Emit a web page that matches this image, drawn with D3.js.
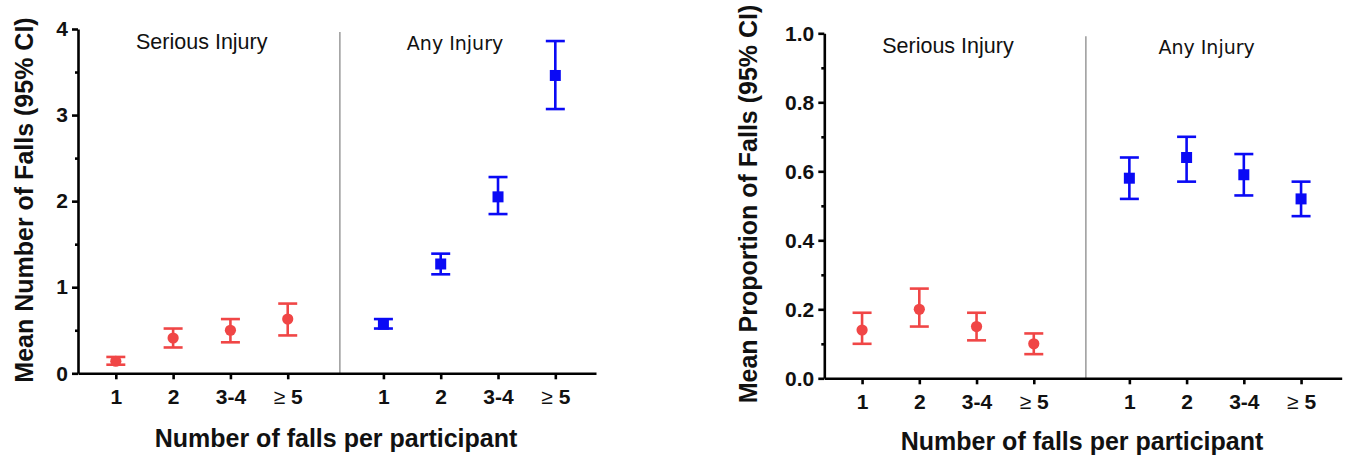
<!DOCTYPE html>
<html>
<head>
<meta charset="utf-8">
<script src="https://cdn.jsdelivr.net/npm/d3@7"></script>
<style>
body{margin:0;background:#fff}
svg{display:block}
</style>
</head>
<body>
<svg id="chart" width="1350" height="458"></svg>
<script>
const categories = ["1", "2", "3-4", "\u2265 5"]
const groups = ["Serious Injury", "Any Injury"]

// left panel - mean number of falls
const countSeriousMean = [0.14, 0.41, 0.50, 0.63]
const countSeriousLo   = [0.10, 0.30, 0.36, 0.44]
const countSeriousHi   = [0.19, 0.52, 0.63, 0.81]
const countAnyMean = [0.57, 1.27, 2.05, 3.46]
const countAnyLo   = [0.52, 1.15, 1.85, 3.07]
const countAnyHi   = [0.63, 1.39, 2.28, 3.86]
const countTicks = [0, 1, 2, 3, 4]
const countMinor = [0.5, 1.5, 2.5, 3.5]

// right panel - mean proportion of falls
const propSeriousMean = [0.14, 0.20, 0.15, 0.10]
const propSeriousLo   = [0.10, 0.15, 0.11, 0.07]
const propSeriousHi   = [0.19, 0.26, 0.19, 0.13]
const propAnyMean = [0.58, 0.64, 0.59, 0.52]
const propAnyLo   = [0.52, 0.57, 0.53, 0.47]
const propAnyHi   = [0.64, 0.70, 0.65, 0.57]
const propTicks = [0, 0.2, 0.4, 0.6, 0.8, 1.0]
const propMinor = [0.1, 0.3, 0.5, 0.7, 0.9]

const red = "#f04646", blue = "#0a0af5"
const groupGap = 4.67   // slot offset of the second group
const slot = (g, i) => g * groupGap + i + 1

const svg = d3.select("#chart")

function drawPanel(p){
  let x = d3.scaleLinear().domain([0.34, 9.38]).range([p.left, p.right])
  let y = d3.scaleLinear().domain(p.domain).range([p.bottom, p.top])
  let g = svg.append("g")

  // divider between the two groups
  g.append("line")
    .attr("x1", x(4.91)).attr("x2", x(4.91))
    .attr("y1", p.top + 3).attr("y2", p.bottom)
    .attr("stroke", "#a0a0a0").attr("stroke-width", 1.6)

  // group titles
  g.append("text").attr("x", x(2.5)).attr("y", p.top + 20)
    .attr("text-anchor", "middle")
    .style("font-family", "'Liberation Sans', Arial, sans-serif").style("font-size", "21.5px").style("fill", "#111")
    .text(groups[0])
  g.append("text").attr("x", x(p.anyPos)).attr("y", p.top + 21)
    .attr("text-anchor", "middle")
    .style("font-family", "'DejaVu Sans', sans-serif").style("font-size", "19px").style("fill", "#111")
    .text(groups[1])

  // y axis, major + minor
  g.append("g").attr("transform", "translate(" + p.left + ",0)")
    .call(d3.axisLeft(y).tickValues(p.ticks).tickFormat(p.fmt).tickSize(6).tickSizeOuter(0).tickPadding(4))
  g.append("g").attr("transform", "translate(" + p.left + ",0)")
    .call(d3.axisLeft(y).tickValues(p.minor).tickFormat("").tickSize(3).tickSizeOuter(0))
    .select(".domain").remove()

  // x axis
  let xs = [0, 1, 2, 3].map(i => slot(0, i)).concat([0, 1, 2, 3].map(i => slot(1, i)))
  let xAx = g.append("g").attr("transform", "translate(0," + p.bottom + ")")
    .call(d3.axisBottom(x).tickValues(xs).tickFormat((d, i) => categories[i % 4]).tickSize(6).tickSizeOuter(0).tickPadding(10))

  g.selectAll(".domain, .tick line").attr("stroke", "#000").attr("stroke-width", 2.6)
  g.selectAll(".tick text")
    .attr("font-family", null).attr("font-size", null)
    .style("font-family", "'Liberation Sans', Arial, sans-serif").style("font-size", "21px")
    .style("font-weight", "bold").style("fill", "#111")
  xAx.selectAll(".tick text").each(function(d, i){
    if(i % 4 === 3){
      let t = d3.select(this).text("")
      t.append("tspan").style("font-weight", "normal").text("\u2265 ")
      t.append("tspan").text("5")
    }
  })

  // axis titles
  g.append("text")
    .attr("transform", "translate(" + p.yLabelX + "," + p.yLabelY + ") rotate(-90)")
    .attr("text-anchor", "middle")
    .style("font-family", "'Liberation Sans', Arial, sans-serif").style("font-size", "25px")
    .style("font-weight", "bold").style("fill", "#111")
    .text(p.yTitle)
  g.append("text").attr("x", p.xLabelX).attr("y", p.xLabelY)
    .attr("text-anchor", "middle")
    .style("font-family", "'Liberation Sans', Arial, sans-serif").style("font-size", "25px")
    .style("font-weight", "bold").style("fill", "#111")
    .text("Number of falls per participant")

  // error bars + markers
  p.series.forEach((s, gi) => {
    let pts = s.mean.map((m, i) => ({x: x(slot(gi, i)), m: m, lo: s.lo[i], hi: s.hi[i]}))
    let eb = g.append("g").attr("stroke", s.color).attr("stroke-width", 2.6)
    eb.selectAll(".v").data(pts).join("line")
      .attr("x1", d => d.x).attr("x2", d => d.x)
      .attr("y1", d => y(d.lo)).attr("y2", d => y(d.hi))
    eb.selectAll(".capT").data(pts).join("line")
      .attr("x1", d => d.x - 9.5).attr("x2", d => d.x + 9.5)
      .attr("y1", d => y(d.hi)).attr("y2", d => y(d.hi))
    eb.selectAll(".capB").data(pts).join("line")
      .attr("x1", d => d.x - 9.5).attr("x2", d => d.x + 9.5)
      .attr("y1", d => y(d.lo)).attr("y2", d => y(d.lo))
    if(s.shape === "circle"){
      g.selectAll(null).data(pts).join("circle")
        .attr("cx", d => d.x).attr("cy", d => y(d.m)).attr("r", 5.6)
        .attr("fill", s.color)
    } else {
      g.selectAll(null).data(pts).join("rect")
        .attr("x", d => d.x - 5.5).attr("y", d => y(d.m) - 5.5)
        .attr("width", 11).attr("height", 11)
        .attr("fill", s.color)
    }
  })
}

drawPanel({
  left: 78, right: 596, top: 29, bottom: 373.3,
  domain: [0, 4], ticks: countTicks, minor: countMinor, fmt: d3.format("d"),
  yTitle: "Mean Number of Falls (95% CI)", yLabelX: 33, yLabelY: 200,
  xLabelX: 336, xLabelY: 447, anyPos: 6.92,
  series: [
    {mean: countSeriousMean, lo: countSeriousLo, hi: countSeriousHi, color: red, shape: "circle"},
    {mean: countAnyMean, lo: countAnyLo, hi: countAnyHi, color: blue, shape: "square"}
  ]
})

drawPanel({
  left: 824.3, right: 1341.7, top: 33.3, bottom: 378.3,
  domain: [0, 1], ticks: propTicks, minor: propMinor, fmt: d3.format(".1f"),
  yTitle: "Mean Proportion of Falls (95% CI)", yLabelX: 757, yLabelY: 204,
  xLabelX: 1082, xLabelY: 450, anyPos: 7.02,
  series: [
    {mean: propSeriousMean, lo: propSeriousLo, hi: propSeriousHi, color: red, shape: "circle"},
    {mean: propAnyMean, lo: propAnyLo, hi: propAnyHi, color: blue, shape: "square"}
  ]
})
</script>
</body>
</html>
